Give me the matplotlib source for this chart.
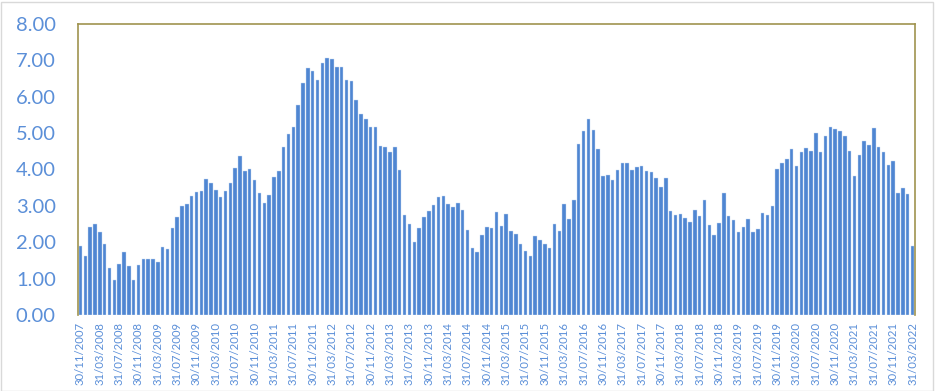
import matplotlib.pyplot as plt
import pandas as pd

# monatliche Werte, 30/11/2007 bis 31/03/2022
values = [
    1.90, 1.61, 2.41, 2.50, 2.27, 1.94, 1.29, 0.96, 1.39, 1.73,
    1.35, 0.96, 1.37, 1.53, 1.55, 1.53, 1.46, 1.86, 1.81, 2.39,
    2.69, 3.00, 3.06, 3.28, 3.37, 3.40, 3.75, 3.62, 3.44, 3.24,
    3.40, 3.62, 4.03, 4.36, 3.97, 4.01, 3.72, 3.35, 3.07, 3.29,
    3.79, 3.97, 4.61, 4.98, 5.18, 5.77, 6.39, 6.80, 6.71, 6.47,
    6.93, 7.06, 7.04, 6.82, 6.82, 6.45, 6.43, 5.92, 5.53, 5.40,
    5.17, 5.18, 4.65, 4.63, 4.49, 4.61, 3.99, 2.76, 2.50, 2.01,
    2.39, 2.69, 2.85, 3.02, 3.24, 3.26, 3.06, 2.98, 3.09, 2.89,
    2.34, 1.84, 1.72, 2.19, 2.43, 2.39, 2.82, 2.45, 2.78, 2.32,
    2.23, 1.94, 1.75, 1.62, 2.16, 2.06, 1.94, 1.83, 2.49, 2.32,
    3.06, 2.63, 3.15, 4.69, 5.07, 5.40, 5.09, 4.56, 3.83, 3.86,
    3.70, 3.99, 4.17, 4.17, 3.99, 4.08, 4.10, 3.97, 3.94, 3.77,
    3.53, 3.77, 2.85, 2.76, 2.78, 2.67, 2.56, 2.89, 2.72, 3.17,
    2.47, 2.19, 2.52, 3.35, 2.71, 2.61, 2.28, 2.43, 2.65, 2.28,
    2.36, 2.80, 2.74, 3.00, 4.01, 4.19, 4.30, 4.56, 4.10, 4.49,
    4.58, 4.50, 5.00, 4.49, 4.91, 5.17, 5.11, 5.07, 4.93, 4.52,
    3.81, 4.41, 4.78, 4.67, 5.13, 4.63, 4.49, 4.12, 4.23, 3.35,
    3.48, 3.33, 1.90,
]
start_date = "2007-11-30"
label_step = 4
y_ticks = [0, 1, 2, 3, 4, 5, 6, 7, 8]

dates = pd.date_range(start_date, periods=len(values), freq="ME")
x_pos = range(len(values))
x_labels = [d.strftime("%d/%m/%Y") for d in dates]

bar_color = "#4F86D2"
label_color = "#5B8FD8"
frame_color = "#A0934F"

plt.rcParams["font.family"] = ["Lato", "DejaVu Sans"]

fig = plt.figure(figsize=(9.36, 3.91), dpi=100)
ax = fig.add_axes([78 / 936, 1 - 315 / 391, 837 / 936, 291 / 391])

ax.bar(x_pos, values, width=0.72, color=bar_color, edgecolor="#C9DBF2", linewidth=0.3)

ax.set_xlim(-0.5, len(values) - 0.5)
ax.set_ylim(0, 8)
ax.set_yticks(y_ticks)
ax.set_yticklabels([f"{v:.2f}" for v in y_ticks], fontsize=14.5, color=label_color)
ax.set_xticks(list(x_pos)[::label_step])
ax.set_xticklabels(x_labels[::label_step], rotation=90, fontsize=8.2, color=label_color)
ax.tick_params(axis="y", length=0, pad=16)
ax.tick_params(axis="x", length=0, pad=5)

for side in ["left", "top", "right"]:
    ax.spines[side].set_color(frame_color)
    ax.spines[side].set_linewidth(1.2)
ax.spines["bottom"].set_visible(False)

# heller Rahmen um das Bild
fig.patches.append(plt.Rectangle((0.001, 0.001), 0.996, 0.994, transform=fig.transFigure,
                                 fill=False, edgecolor="#D9D9D9", linewidth=1))

fig.savefig("out.png", dpi=100)
